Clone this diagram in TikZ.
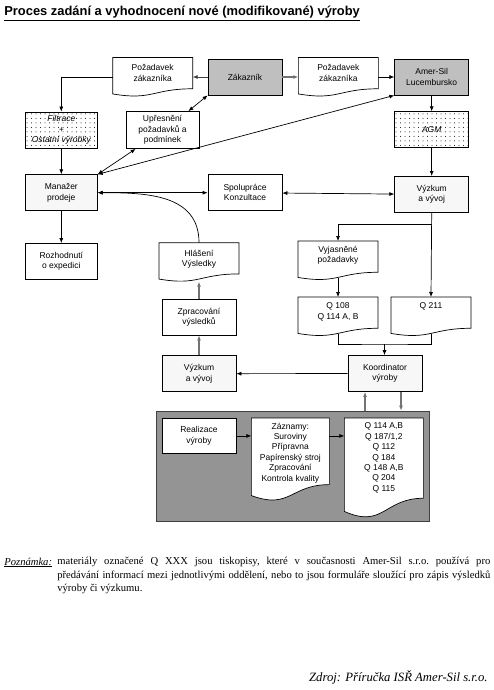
\documentclass[tikz,border=0pt]{standalone}
\usepackage{fontspec}
\setmainfont{Liberation Serif}
\setsansfont{Liberation Sans}
\usepackage{xcolor}
\colorlet{colorCustomer}{black!25}
\colorlet{colorFrame}{black!42}
\colorlet{colorFlow}{black!55}
\colorlet{colorDots}{black!38}
\usetikzlibrary{arrows.meta, positioning, calc, patterns.meta}

% document sheet with a wavy lower edge
\makeatletter
\newdimen\docL \newdimen\docR \newdimen\docM \newdimen\docT \newdimen\docB
\newdimen\docH \newdimen\docRy \newdimen\docCy \newdimen\docLy
\pgfdeclareshape{wavydoc}{
  \inheritsavedanchors[from=rectangle]
  \inheritanchorborder[from=rectangle]
  \inheritanchor[from=rectangle]{center}
  \inheritanchor[from=rectangle]{north}
  \inheritanchor[from=rectangle]{south}
  \inheritanchor[from=rectangle]{east}
  \inheritanchor[from=rectangle]{west}
  \inheritanchor[from=rectangle]{north east}
  \inheritanchor[from=rectangle]{north west}
  \inheritanchor[from=rectangle]{south east}
  \inheritanchor[from=rectangle]{south west}
  \inheritanchor[from=rectangle]{base}
  \inheritanchor[from=rectangle]{mid}
  \backgroundpath{%
    \southwest \docL=\pgf@x \docB=\pgf@y
    \northeast \docR=\pgf@x \docT=\pgf@y
    \docM=.5\docL \advance\docM by .5\docR
    \docH=\docT \advance\docH by -\docB
    \docRy=\docB \advance\docRy by .198\docH
    \docCy=\docB \advance\docCy by -.1075\docH
    \docLy=\docB \advance\docLy by .066\docH
    \pgfpathmoveto{\pgfqpoint{\docL}{\docT}}%
    \pgfpathlineto{\pgfqpoint{\docR}{\docT}}%
    \pgfpathlineto{\pgfqpoint{\docR}{\docRy}}%
    \pgfpathcurveto{\pgfqpoint{\docM}{\docRy}}{\pgfqpoint{\docM}{\docCy}}{\pgfqpoint{\docL}{\docLy}}%
    \pgfpathclose
  }
}
\makeatother

\newcommand{\boxfont}{\sffamily\fontsize{8.5}{10.4}\selectfont}

\tikzset{
  box/.style={draw, line width=.7pt, minimum width=74pt, minimum height=36pt, inner sep=1pt, align=center, fill=white, font=\boxfont},
  graybox/.style={box, fill=colorCustomer},
  dotbox/.style={box, fill=none, preaction={fill=white}, pattern={Dots[distance=4.5pt, radius=.5pt]}, pattern color=black, font=\boxfont\itshape},
  finebox/.style={box, fill=none, preaction={fill=white}, pattern={Dots[distance=2pt, radius=.3pt]}, pattern color=colorDots},
  doc/.style={shape=wavydoc, draw, line width=.7pt, fill=white, minimum width=80pt, minimum height=39pt, inner sep=1pt, outer sep=0pt, align=center, font=\boxfont, text depth=#1},
  doc/.default=2pt,
  flowgray/.style={->, draw=colorFlow, line width=1.3pt},
}

\begin{document}
\begin{tikzpicture}[x=1pt, y=-1pt, >={Latex[length=5pt,width=4pt]}, line width=.7pt]
\useasboundingbox (0,0) rectangle (494,690);

\node[anchor=base west, inner sep=0pt, font=\sffamily\bfseries\fontsize{12.9}{15}\selectfont] (title) at (4,16) {\underline{Proces zadání a vyhodnocení nové (modifikované) výroby}};

% upper part
\node[graybox] (zak) at (245,77) {Zákazník};
\node[doc=8pt, left=15pt of zak] (pozL) {Požadavek\\zákazníka};
\node[doc=8pt, right=16pt of zak] (pozR) {Požadavek\\zákazníka};
\node[graybox, right=16pt of pozR] (amer) {Amer-Sil\\Lucembursko};
\node[dotbox, below=16pt of amer] (agm) {AGM};
\node[finebox, below=28pt of agm] (vyzkum) {Výzkum\\a vývoj};
\node[box, below=79pt of zak] (spol) {Spolupráce\\Konzultace};
\node[finebox, minimum width=72pt, left=110pt of spol] (manazer) {Manažer\\prodeje};
\node[dotbox, minimum width=72pt, above=26pt of manazer] (filtrace) {Filtrace\\+\\Ostatní výrobky};
\node[box, minimum width=73pt, minimum height=37pt, right=28pt of filtrace] (upres) {Upřesnění\\požadavků a\\podmínek};
\node[box, minimum width=72pt, below=32pt of manazer] (rozh) {Rozhodnutí\\o expedici};

% middle part
\node[box] (zprac) at (199,317) {Zpracování\\výsledků};
\node[doc=8pt, above=17pt of zprac] (hlaseni) {Hlášení\\Výsledky};
\node[finebox, below=20pt of zprac] (vyzk2) {Výzkum\\a vývoj};
\node[doc=12pt] (vyjas) at (338,260.5) {Vyjasněné\\požadavky};
\node[doc=11pt, below=17pt of vyjas] (q108) {Q 108\\Q 114 A, B};
\node[doc=22pt, right=13pt of q108] (q211) {Q 211};
\node[finebox] (koord) at (385,373.5) {Koordinator\\výroby};

% production frame
\node[draw=black!75, fill=colorFrame, minimum width=273pt, minimum height=110pt, inner sep=0pt] (vyroba) at (292.5,466) {};
\node[box, minimum height=35pt, below=26pt of vyzk2] (realiz) {Realizace\\výroby};
\node[doc=15pt, minimum width=78pt, minimum height=83pt, right=15pt of realiz.north east, anchor=north west] (zazn) {Záznamy:\\Suroviny\\Přípravna\\Papírenský stroj\\Zpracování\\Kontrola kvality};
\node[doc=22pt, minimum width=79pt, minimum height=100pt, right=15pt of zazn.north east, anchor=north west] (qlist) {Q 114 A,B\\Q 187/1,2\\Q 112\\Q 184\\Q 148 A,B\\Q 204\\Q 115};

% connectors
\draw[->, black!75] (zak.west) -- (zak.west -| pozL.east);
\draw[flowgray] (zak.east) -- (zak.east -| pozR.west);
\draw[->] (pozL.west) -| (filtrace.north);
\draw[->] (pozR) -- (amer);
\draw[->] (amer) -- (agm);
\draw[->] (agm) -- (vyzkum);
\draw[<->] (zak.south west) -- ([xshift=-11pt]upres.north east);
\draw[<->] ([xshift=10pt]upres.south west) -- (manazer.north east);
\draw[<->] (amer.south west) -- (manazer.north east);
\draw[->] (filtrace) -- (manazer);
\draw[<->] (manazer.east) -- (manazer.east -| spol.west);
\draw[<->] (spol) -- (vyzkum);
\draw[->] (manazer) -- (rozh);
\draw[->] (hlaseni.north) to[out=90, in=0, looseness=1.1] (manazer.east);
\draw[flowgray] (zprac) -- (hlaseni);
\draw[flowgray] (vyzk2) -- (zprac);
\draw[->] (koord) -- (vyzk2);
\coordinate (split) at ([yshift=-12pt]vyzkum.south);
\draw[->] (vyzkum.south) -- (q211.north);
\draw[->] (split) -| (vyjas.north);
\draw[->] ([yshift=2pt]vyjas.south) -- (q108.north);
\coordinate (join) at ([yshift=-8pt]$(q108.south)!.5!(q211.south)$);
\draw ([yshift=2pt]q108.south) |- (join) -| ([yshift=2pt]q211.south);
\draw[->] (join) -- (join |- koord.north);
\draw[flowgray] ([xshift=-20pt]koord.south |- vyroba.north) -- ([xshift=-20pt]koord.south);
\draw[flowgray] ([xshift=16pt]koord.south) -- ([xshift=16pt]koord.south |- vyroba.north);
\draw[->] (realiz.east) -- (realiz.east -| zazn.west);
\draw[->] (zazn.east |- realiz.east) -- (qlist.west |- realiz.east);

% note and source
\node[anchor=base west, inner sep=0pt, font=\rmfamily\fontsize{10.6}{13.5}\selectfont] (pozn) at (4,565) {\underline{\textit{Poznámka:}}};
\node[anchor=north west, inner sep=0pt, text width=433pt, align=justify, font=\rmfamily\frenchspacing\fontsize{10.6}{13.5}\selectfont] (poznText) at (57,557) {materiály označené Q XXX jsou tiskopisy, které v současnosti Amer-Sil s.r.o. používá pro\linebreak předávání informací mezi jednotlivými oddělení, nebo to jsou formuláře sloužící pro zápis výsledků\linebreak výroby či výzkumu.};
\node[anchor=base east, inner sep=0pt, font=\rmfamily\itshape\fontsize{12.7}{15}\selectfont] (zdroj) at (488,681) {Zdroj: Příručka ISŘ Amer-Sil s.r.o.};
\end{tikzpicture}
\end{document}
